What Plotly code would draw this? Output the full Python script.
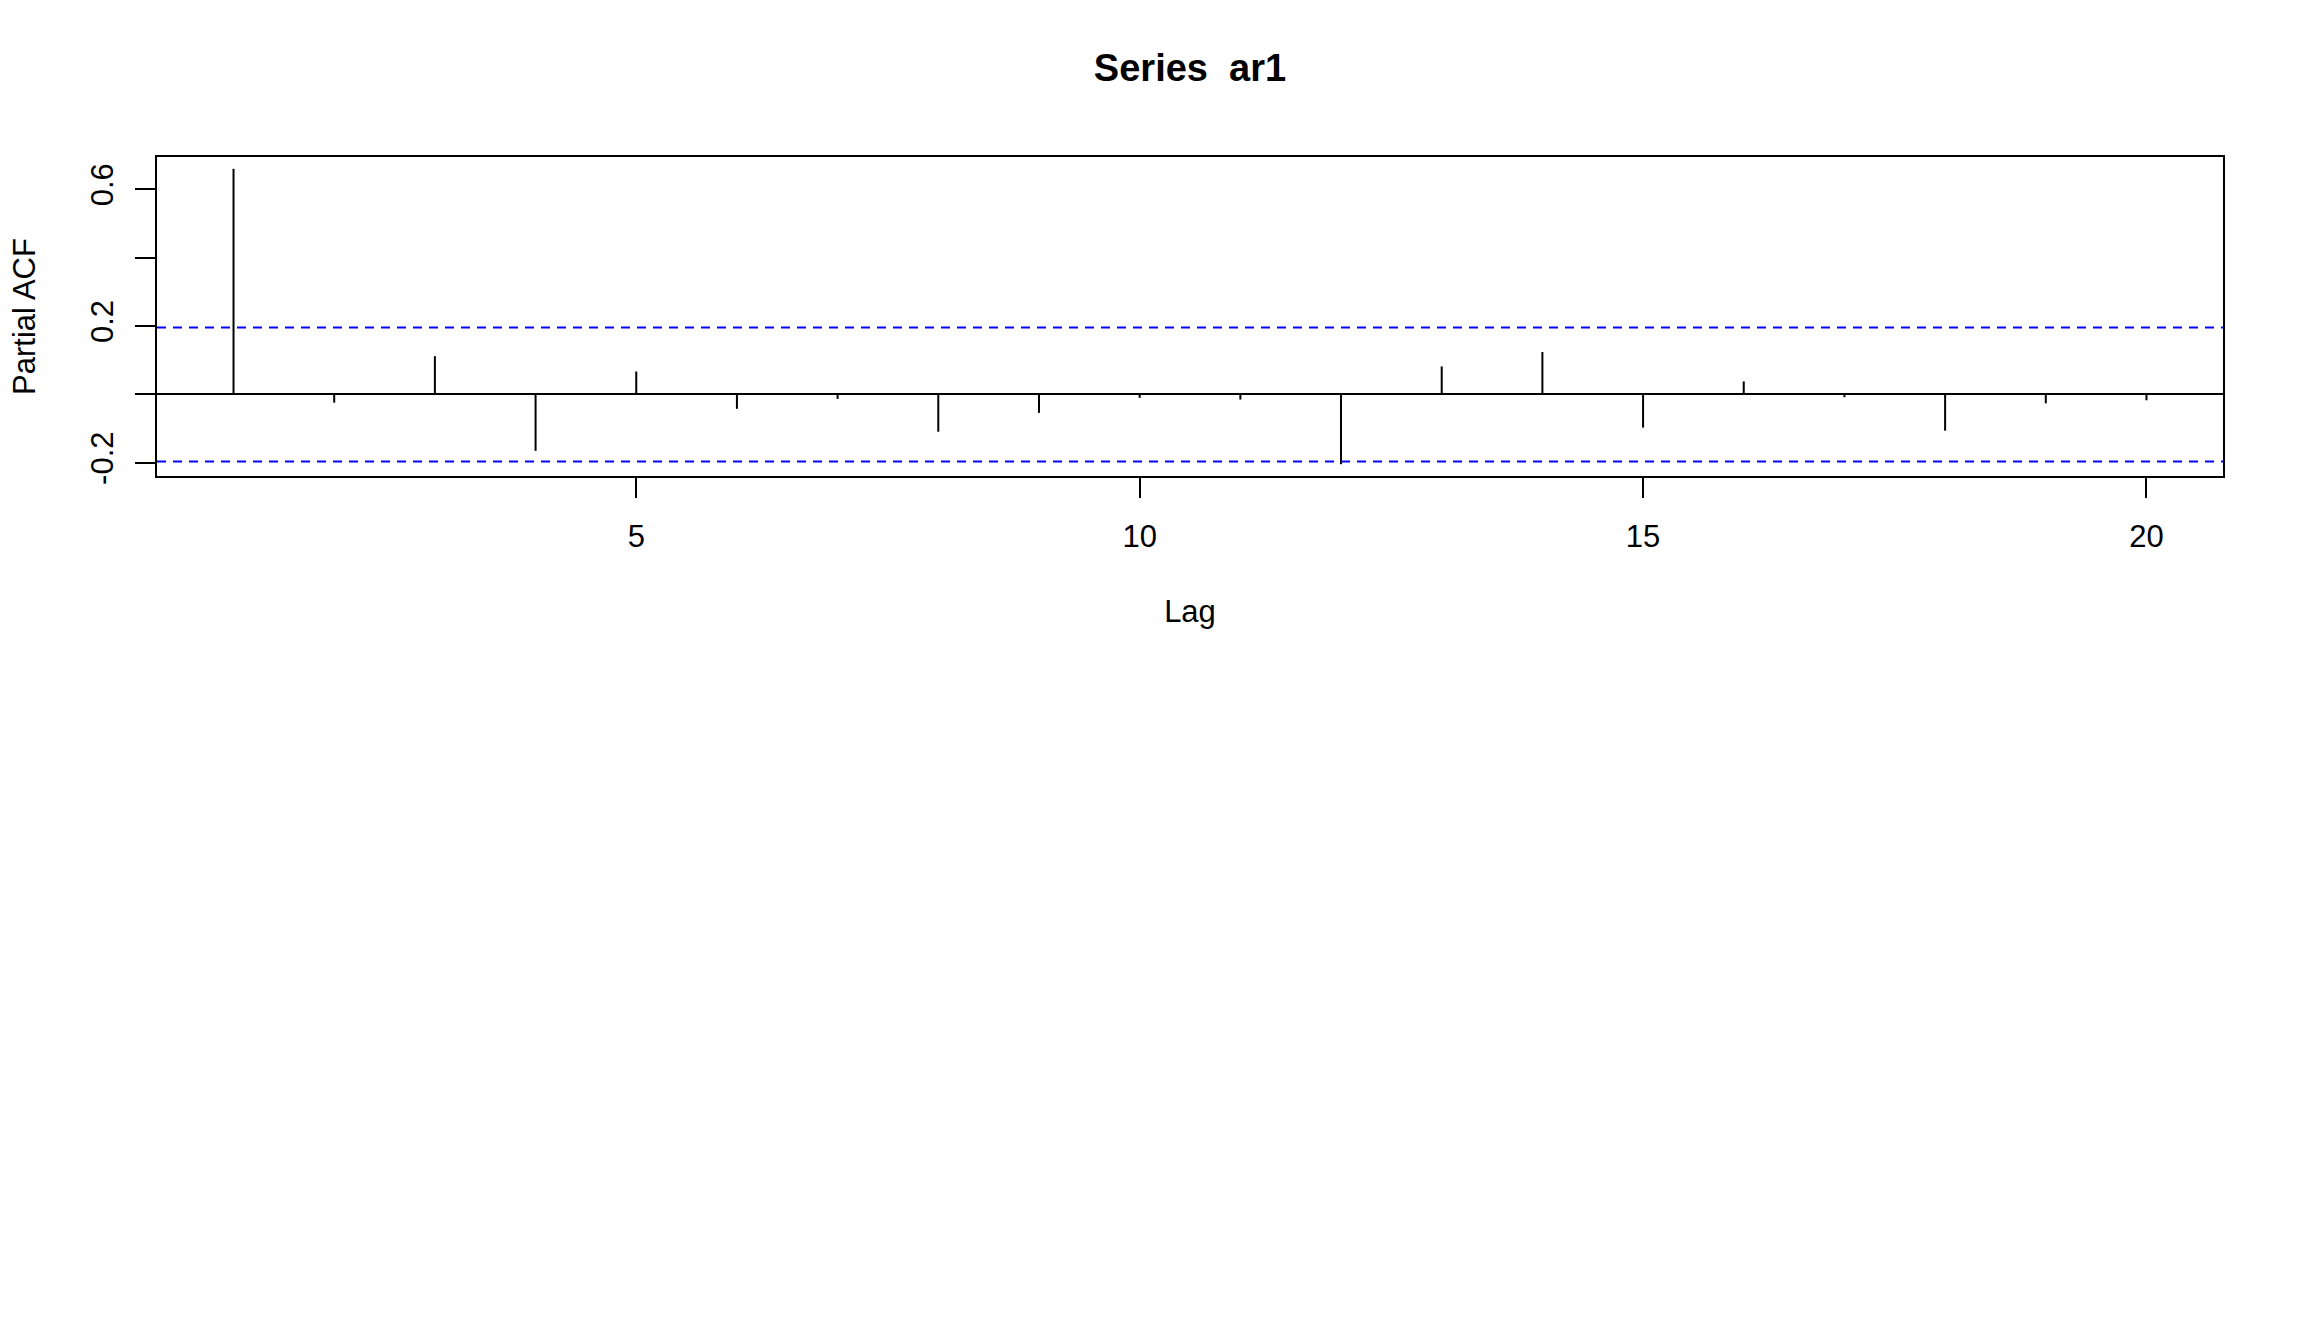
import plotly.graph_objects as go

# Data (PACF of series ar1, lags 1..20)
lags = list(range(1, 21))
pacf_values = [0.660, -0.024, 0.112, -0.165, 0.067, -0.042, -0.013, -0.109, -0.054, -0.010,
               -0.015, -0.204, 0.082, 0.124, -0.097, 0.038, -0.008, -0.106, -0.026, -0.017]
conf_limit = 0.196
x_tick_vals = [5, 10, 15, 20]
y_tick_vals = [-0.2, 0.0, 0.2, 0.4, 0.6]
y_tick_text = ["-0.2", "", "0.2", "", "0.6"]

FONT = "Liberation Sans, Arial, Helvetica, sans-serif"

# Build vertical spikes
xs, ys = [], []
for lag, v in zip(lags, pacf_values):
    xs += [lag, lag, None]
    ys += [0, v, None]

fig = go.Figure()
fig.add_trace(go.Scatter(x=xs, y=ys, mode="lines",
                         line=dict(color="black", width=2), hoverinfo="skip",
                         showlegend=False))

for c in (conf_limit, -conf_limit):
    fig.add_shape(type="line", xref="paper", x0=0, x1=1, yref="y", y0=c, y1=c,
                  line=dict(color="#0000FF", width=2, dash="9px,7px"))

# y range as in R: range of values and limits extended 4%
lo = min(min(pacf_values), -conf_limit)
hi = max(max(pacf_values), conf_limit)
ext = (hi - lo) * 0.04
xlo, xhi = min(lags), max(lags)
xext = (xhi - xlo) * 0.04

fig.update_layout(
    width=2304, height=1344,
    margin=dict(l=157, r=81, t=157, b=868),
    paper_bgcolor="white", plot_bgcolor="white",
    font=dict(family=FONT, size=31, color="black"),
    title=dict(text="<b>Series  ar1</b>", x=(157 + 2223) / 2 / 2304, xanchor="center",
               y=1 - 68 / 1344, yanchor="middle", yref="container",
               font=dict(size=38, family=FONT, color="black")),
    showlegend=False,
)
fig.update_xaxes(range=[xlo - xext, xhi + xext], tickvals=x_tick_vals,
                 ticks="outside", ticklen=20, tickwidth=2, tickcolor="black",
                 ticklabelstandoff=12,
                 showline=True, linecolor="black", linewidth=2, mirror=True,
                 showgrid=False, zeroline=False,
                 title=dict(text="Lag", standoff=47, font=dict(size=31)))
fig.update_yaxes(range=[lo - ext, hi + ext], tickvals=y_tick_vals, ticktext=y_tick_text,
                 tickangle=-90, ticklabelstandoff=10,
                 ticks="outside", ticklen=20, tickwidth=2, tickcolor="black",
                 showline=True, linecolor="black", linewidth=2, mirror=True,
                 showgrid=False, zeroline=True, zerolinecolor="black", zerolinewidth=2,
                 title=dict(text="Partial ACF", standoff=40, font=dict(size=31)))

fig.write_html("out.html")
